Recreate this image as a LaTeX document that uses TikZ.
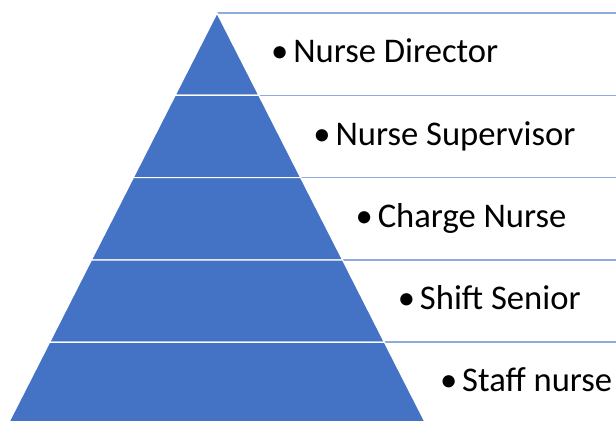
\documentclass[tikz,border=0pt]{standalone}
\usepackage{fontspec}
\setmainfont{Carlito}
\definecolor{tierblue}{HTML}{4472C4}
\definecolor{ruleblue}{HTML}{8FAADC}
\newcommand{\listdot}{\makebox[10.5pt][l]{\hspace{-0.6pt}\textbullet}}

\begin{document}
\begin{tikzpicture}[x=0.5pt, y=-0.5pt,
		tier/.style={fill=tierblue, draw=white, line width=0.6pt},
		rule/.style={draw=ruleblue, line width=0.8pt},
		item/.style={anchor=base west, inner sep=0pt, font=\fontsize{17.3}{20}\selectfont}]
	\useasboundingbox (0,0) rectangle (616,420);
	\clip (0,0) rectangle (616,420);
	
	% edges of the pyramid, left and right, at each level
	\coordinate (top) at (217,13);
	\coordinate (l1) at (175.1,95.3);  \coordinate (r1) at (258.9,95.3);
	\coordinate (l2) at (133.3,177.6); \coordinate (r2) at (300.7,177.6);
	\coordinate (l3) at (91.4,259.9);  \coordinate (r3) at (342.6,259.9);
	\coordinate (l4) at (49.6,342.2);  \coordinate (r4) at (384.4,342.2);
	\coordinate (l5) at (-0.2,440);    \coordinate (r5) at (434.2,440);
	
	% lines running out to the right
	\draw[rule] (top) -- (616,13);
	\foreach \i/\y in {1/95.3, 2/177.6, 3/259.9, 4/342.2}
		\draw[rule] (r\i) -- (616,\y);
	
	% tiers
	\path[tier] (top) -- (r1) -- (l1) -- cycle;
	\path[tier] (l1) -- (r1) -- (r2) -- (l2) -- cycle;
	\path[tier] (l2) -- (r2) -- (r3) -- (l3) -- cycle;
	\path[tier] (l3) -- (r3) -- (r4) -- (l4) -- cycle;
	\path[tier] (l4) -- (r4) -- (r5) -- (l5) -- cycle;
	
	\node[item] (director) at (272,62.7) {\listdot Nurse Director};
	\node[item] (supervisor) at (314.2,145) {\listdot Nurse Supervisor};
	\node[item] (charge) at (356.4,227.3) {\listdot Charge Nurse};
	\node[item] (shift) at (398.6,309.6) {\listdot Shift Senior};
	\node[item] (staff) at (440.8,391.9) {\listdot Staff nurse};
\end{tikzpicture}
\end{document}
